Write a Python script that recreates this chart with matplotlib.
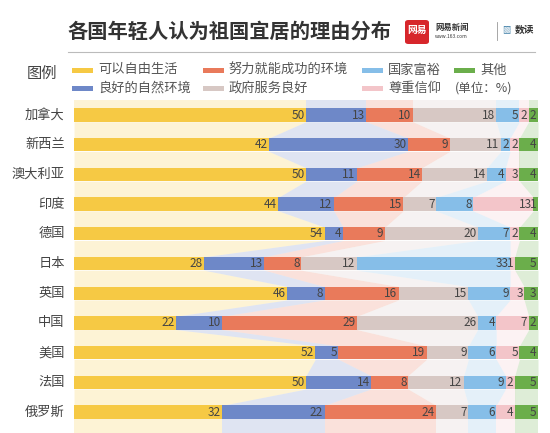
import matplotlib
matplotlib.use("Agg")
import matplotlib.pyplot as plt
from matplotlib.patches import FancyBboxPatch, Rectangle
import numpy as np

plt.rcParams["font.family"] = ["Noto Sans CJK SC", "DejaVu Sans"]

countries = ["加拿大", "新西兰", "澳大利亚", "印度", "德国", "日本",
             "英国", "中国", "美国", "法国", "俄罗斯"]
categories = ["可以自由生活", "良好的自然环境", "努力就能成功的环境",
              "政府服务良好", "国家富裕", "尊重信仰", "其他"]
free_life = [50, 42, 50, 44, 54, 28, 46, 22, 52, 50, 32]
nature = [13, 30, 11, 12, 4, 13, 8, 10, 5, 14, 22]
success = [10, 9, 14, 15, 9, 8, 16, 29, 19, 8, 24]
government = [18, 11, 14, 7, 20, 12, 15, 26, 9, 12, 7]
wealth = [5, 2, 4, 8, 7, 33, 9, 4, 6, 9, 6]
belief = [2, 2, 3, 13, 2, 1, 3, 7, 5, 2, 4]
other = [2, 4, 4, 1, 4, 5, 3, 2, 4, 5, 5]

colors = ["#F6C944", "#6E88C8", "#E97A5B", "#D7C8C4", "#86BEE8", "#F3C5C9", "#6BAE4B"]

W, H = 550, 433
fig = plt.figure(figsize=(W / 100, H / 100), dpi=100)
fig.patch.set_facecolor("white")


def fx(px):
    return px / W


def fy(py):
    return 1 - py / H


# header
fig.text(fx(68), fy(31), "各国年轻人认为祖国宜居的理由分布", fontsize=14.6,
         fontweight="bold", color="#333333", va="center", ha="left")
fig.patches.append(FancyBboxPatch((fx(405), fy(44)), fx(24), 24 / H,
                                  boxstyle="round,pad=0,rounding_size=0.006",
                                  transform=fig.transFigure, facecolor="#D7262B",
                                  edgecolor="none"))
fig.text(fx(417), fy(30), "网易", fontsize=7, fontweight="bold", color="white",
         ha="center", va="center")
fig.text(fx(435), fy(27), "网易新闻", fontsize=6, fontweight="bold", color="#333333",
         ha="left", va="center")
fig.text(fx(435), fy(36), "www.163.com", fontsize=3.5, color="#333333",
         ha="left", va="center")
fig.lines.append(plt.Line2D([fx(497), fx(497)], [fy(22), fy(40)],
                            transform=fig.transFigure, color="#999999", lw=0.6))
fig.text(fx(502), fy(30), "▧", fontsize=6, color="#3A7CA5", ha="left", va="center")
fig.text(fx(515), fy(30), "数读", fontsize=7, fontweight="bold", color="#333333",
         ha="left", va="center")
fig.lines.append(plt.Line2D([fx(68), fx(535)], [fy(52), fy(52)],
                            transform=fig.transFigure, color="#BBBBBB", lw=0.8))

# legend
fig.text(fx(27), fy(73), "图例", fontsize=11, color="#444444", ha="left", va="center")
leg_pos = [(72, 70), (72, 88), (203, 70), (203, 88), (362, 70), (362, 88), (454, 70)]
for (px, py), cat, col in zip(leg_pos, categories, colors):
    fig.patches.append(Rectangle((fx(px), fy(py + 2.5)), fx(21), 5 / H,
                                 transform=fig.transFigure, facecolor=col,
                                 edgecolor="none"))
    fig.text(fx(px + 26), fy(py), cat, fontsize=9.5, color="#555555",
             ha="left", va="center")
fig.text(fx(455), fy(88), "(单位：%)", fontsize=9, color="#555555",
         ha="left", va="center")

# bars
spacing = 29.7
top_px = 100
bot_px = 433
ax = fig.add_axes([fx(74), fy(bot_px), fx(538) - fx(74), (bot_px - top_px) / H])
n = len(countries)
ylo = (bot_px - 115) / spacing
yhi = (top_px - 115) / spacing
ax.set_xlim(0, 100)
ax.set_ylim(ylo, yhi)
ax.axis("off")

data = np.array([free_life, nature, success, government, wealth, belief, other])
lefts = np.vstack([np.zeros(n), np.cumsum(data, axis=0)[:-1]])
rights = np.cumsum(data, axis=0)
half = 0.225
y = np.arange(n)

# faded connecting bands
for k, col in enumerate(colors):
    for i in range(n - 1):
        ax.fill_betweenx([i + half, i + 1 - half],
                         [lefts[k, i], lefts[k, i + 1]],
                         [rights[k, i], rights[k, i + 1]],
                         color=col, alpha=0.22, lw=0)
    ax.fill_betweenx([yhi, -half], lefts[k, 0], rights[k, 0],
                     color=col, alpha=0.22, lw=0)
    ax.fill_betweenx([n - 1 + half, ylo], lefts[k, -1], rights[k, -1],
                     color=col, alpha=0.22, lw=0)

for k, col in enumerate(colors):
    ax.barh(y, data[k], left=lefts[k], height=2 * half, color=col, lw=0)
    for i in range(n):
        ax.text(rights[k, i] - 0.3, i, str(data[k, i]), fontsize=8.5,
                color="#444444", ha="right", va="center")

for i, c in enumerate(countries):
    ax.text(-2.0, i, c, fontsize=9.5, color="#444444", ha="right", va="center")

fig.savefig("out.png", dpi=100)
